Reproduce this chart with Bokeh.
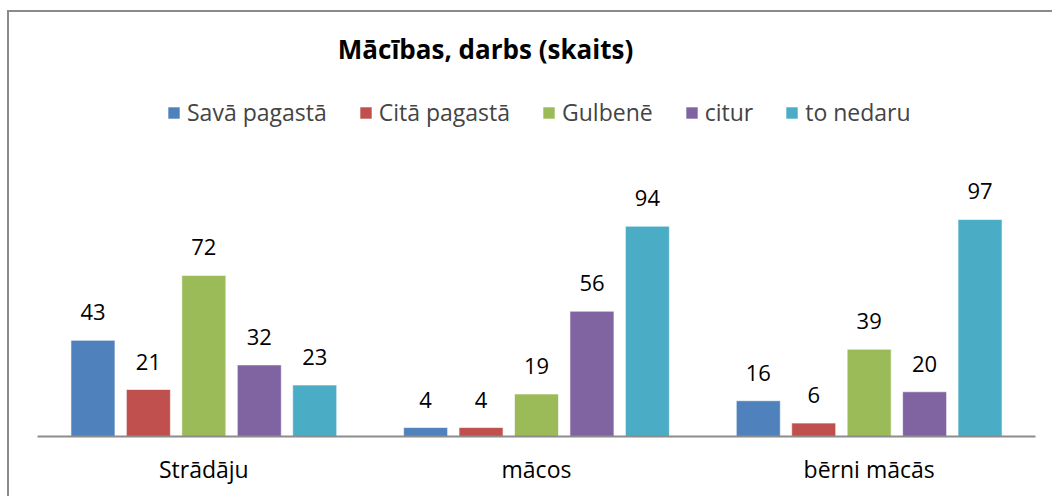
from bokeh.plotting import figure
from bokeh.models import ColumnDataSource, FactorRange, Range1d, Legend, LegendItem, Label
from bokeh.transform import dodge
from bokeh.core.properties import value
from bokeh.embed import file_html
from bokeh.resources import INLINE

categories = ["Strādāju", "mācos", "bērni mācās"]
series_names = ["Savā pagastā", "Citā pagastā", "Gulbenē", "citur", "to nedaru"]
sava_pagasta = [43, 4, 16]
cita_pagasta = [21, 4, 6]
gulbene = [72, 19, 39]
citur = [32, 56, 20]
to_nedaru = [23, 94, 97]
colors = ["#4F81BD", "#C0504D", "#9BBB59", "#8064A2", "#4BACC6"]
title_text = "Mācības, darbs (skaits)"

series_values = [sava_pagasta, cita_pagasta, gulbene, citur, to_nedaru]

FONT = "Open Sans"

p = figure(
    width=1045, height=486,
    x_range=FactorRange(*categories, range_padding=0),
    y_range=Range1d(0, 189.5),
    output_backend="svg", toolbar_location=None,
    min_border_left=28, min_border_right=19, min_border_top=0, min_border_bottom=62,
    outline_line_color=None,
    styles={"margin-left": "7px", "margin-top": "10px",
            "border-left": "2px solid #8a8a8a", "border-top": "2px solid #8a8a8a"},
)
p.xgrid.visible = False
p.ygrid.visible = False
p.yaxis.visible = False

ax = p.xaxis[0]
ax.axis_line_color = "#8c8c8c"
ax.axis_line_width = 2
ax.major_tick_line_color = None
ax.minor_tick_line_color = None
ax.major_label_text_font = FONT
ax.major_label_text_font_size = "23px"
ax.major_label_text_color = "#000000"
ax.major_label_standoff = 10

offsets = [-0.3333, -0.1667, 0.0, 0.1667, 0.3333]
items = []
for name, vals, col, off in zip(series_names, series_values, colors, offsets):
    src = ColumnDataSource(dict(cat=categories, val=vals, lbl=[str(v) for v in vals]))
    r = p.vbar(x=dodge("cat", off, range=p.x_range), top="val", width=0.1323, source=src,
               fill_color=col, line_color="#ffffff", line_alpha=0.6, line_width=1)
    p.text(x=dodge("cat", off, range=p.x_range), y="val", text="lbl", source=src,
           text_align="center", text_baseline="middle", y_offset=-28,
           text_font=value(FONT), text_font_size="22px", text_color="#000000")
    items.append(LegendItem(label=name, renderers=[r]))

legend = Legend(items=items, orientation="horizontal", location=(129, 308),
                border_line_color=None, background_fill_alpha=0,
                label_text_font=FONT, label_text_font_size="23px",
                glyph_width=15, glyph_height=15, label_standoff=6, spacing=31,
                padding=0, margin=0)
p.add_layout(legend)

title = Label(x=448, y=388, x_units="screen", y_units="screen", text=title_text,
              text_align="center", text_baseline="middle", text_font=FONT,
              text_font_size="26px", text_font_style="bold", text_color="#000000")
p.add_layout(title)

open("out.html", "w").write(file_html(p, INLINE))
